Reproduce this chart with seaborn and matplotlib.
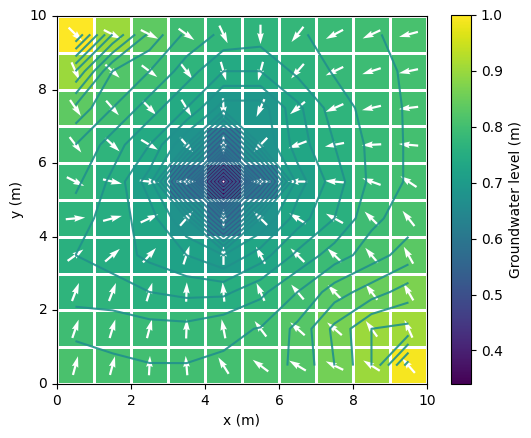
import numpy as np
import matplotlib
matplotlib.use("Agg")
import matplotlib.pyplot as plt
import seaborn as sns

# cell values, top row (y=9.5) first, x = 0.5 ... 9.5
level_rows = [
    [1.00, 0.90, 0.835, 0.795, 0.775, 0.770, 0.777, 0.788, 0.797, 0.808],
    [0.90, 0.82, 0.800, 0.770, 0.740, 0.740, 0.765, 0.782, 0.793, 0.803],
    [0.835, 0.80, 0.770, 0.740, 0.690, 0.690, 0.735, 0.770, 0.788, 0.8025],
    [0.80, 0.77, 0.740, 0.680, 0.540, 0.680, 0.730, 0.760, 0.785, 0.8025],
    [0.785, 0.755, 0.710, 0.540, 0.340, 0.540, 0.710, 0.750, 0.785, 0.8025],
    [0.77, 0.75, 0.730, 0.680, 0.540, 0.680, 0.730, 0.760, 0.795, 0.810],
    [0.76, 0.75, 0.735, 0.720, 0.700, 0.730, 0.765, 0.790, 0.810, 0.830],
    [0.77, 0.77, 0.760, 0.755, 0.755, 0.775, 0.800, 0.830, 0.850, 0.870],
    [0.795, 0.79, 0.787, 0.786, 0.7955, 0.801, 0.825, 0.865, 0.900, 0.905],
    [0.81, 0.805, 0.801, 0.801, 0.803, 0.812, 0.823, 0.860, 0.900, 0.990],
]

# flow direction of each arrow in degrees (0 = east, 90 = north), same layout;
# the pumping cell has no arrow, only a dot
flow_angle_rows = [
    [-45, -27, -27, -36, -65, -90, -128, -152, -155, -165],
    [-66, -43, -37, -53, -74, -105, -131, -154, -162, -168],
    [-56, -49, -46, -59, -87, -114, -140, -156, -167, -173],
    [-53, -43, -31, -49, -90, -134, -159, -169, -177, 175],
    [-27, -13, -6, 0, np.nan, 180, 180, 175, 160, 146],
    [5, 15, 25, 49, 90, 135, 148, 151, 135, 128],
    [36, 41, 48, 72, 90, 118, 135, 136, 130, 119],
    [69, 69, 73, 88, 95, 114, 130, 134, 127, 120],
    [71, 73, 75, 88, 101, 127, 138, 139, 126, 114],
    [75, 75, 87, 95, 122, 143, 149, 154, 148, 131],
]

x_centers = np.arange(0.5, 10, 1.0)
y_centers = np.arange(0.5, 10, 1.0)
tick_values = [0, 2, 4, 6, 8, 10]
cbar_ticks = [0.4, 0.5, 0.6, 0.7, 0.8, 0.9, 1.0]
contour_levels = np.arange(0.36, 1.0, 0.02)

# bottom row first so that row i sits at y = i + 0.5
h = np.flipud(np.array(level_rows))
ang = np.deg2rad(np.flipud(np.array(flow_angle_rows, dtype=float)))
u = np.nan_to_num(np.cos(ang))
v = np.nan_to_num(np.sin(ang))

fig = plt.figure(figsize=(5.31, 4.38), dpi=100)
ax = fig.add_axes([0.1073, 0.1233, 0.6968, 0.8402])
cax = fig.add_axes([0.8493, 0.1233, 0.0377, 0.8425])

sns.heatmap(h, ax=ax, cbar_ax=cax, cmap="viridis", vmin=0.34, vmax=1.0,
            linewidths=0.9, linecolor="white",
            cbar_kws={"label": "Groundwater level (m)"})
ax.invert_yaxis()

X, Y = np.meshgrid(x_centers, y_centers)
ax.quiver(X, Y, u, v, color="white", pivot="mid",
          scale_units="xy", scale=1.9, angles="xy")

# contour lines: bluish near the well, teal further out
line_cols = plt.cm.viridis(np.clip(0.28 + (contour_levels - 0.36) * 0.65, 0.28, 0.5))
ax.contour(X, Y, h, levels=contour_levels, colors=line_cols,
           linewidths=1.5, alpha=0.9)

ax.set_xlim(0, 10)
ax.set_ylim(0, 10)
ax.set_xticks(tick_values)
ax.set_xticklabels([str(t) for t in tick_values], rotation=0)
ax.set_yticks(tick_values)
ax.set_yticklabels([str(t) for t in tick_values], rotation=0)
ax.tick_params(length=3.5, width=0.8, labelsize=10)
for sp in ax.spines.values():
    sp.set_visible(True)
    sp.set_linewidth(0.8)
ax.set_xlabel("x (m)")
ax.set_ylabel("y (m)")

cbar = ax.collections[0].colorbar
cbar.outline.set_linewidth(0.8)
cbar.set_ticks(cbar_ticks)
cbar.ax.tick_params(labelsize=10)
cbar.set_label("Groundwater level (m)", fontsize=10)

fig.savefig("out.png", dpi=100)
